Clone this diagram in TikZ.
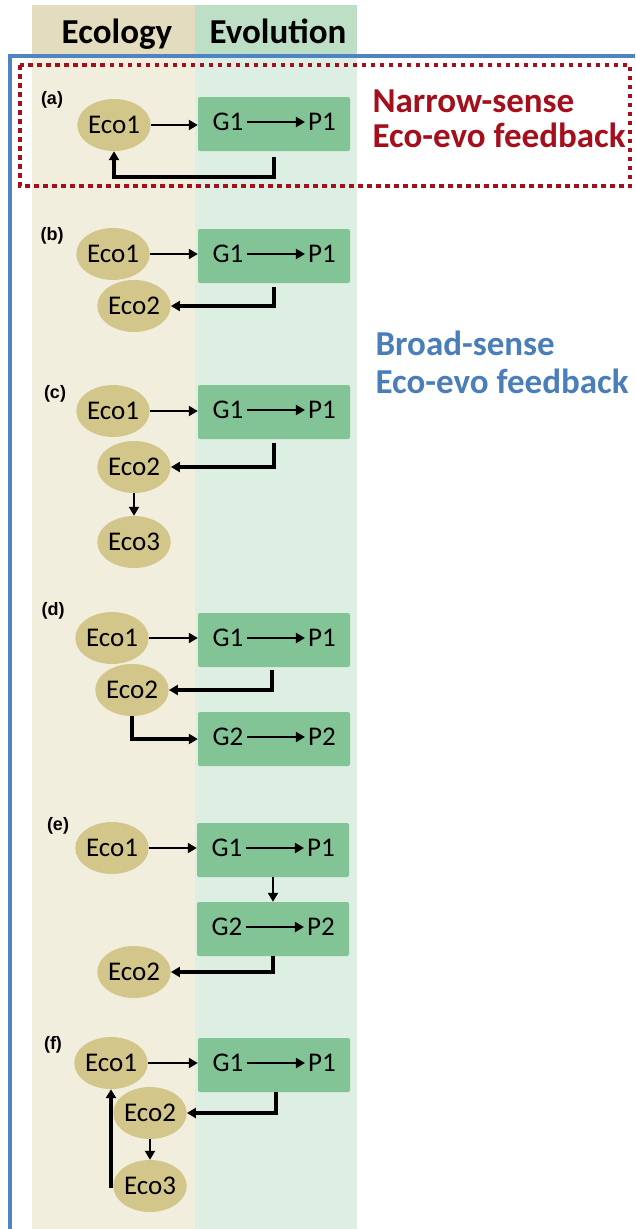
\documentclass[tikz,border=0pt]{standalone}
\usepackage{fontspec}
\setmainfont{Carlito}
\newfontfamily\lblfont{Liberation Sans}
\usetikzlibrary{arrows.meta,shapes.geometric}
\definecolor{ecohead}{HTML}{E3DCBE}
\definecolor{evohead}{HTML}{BDDFC6}
\definecolor{ecobg}{HTML}{F2EEDE}
\definecolor{evobg}{HTML}{DDEEE2}
\definecolor{ecofill}{HTML}{D3C68B}
\definecolor{evofill}{HTML}{83C497}
\definecolor{narrowred}{HTML}{A50F1B}
\definecolor{broadblue}{HTML}{4A7EBB}
\definecolor{frameblue}{HTML}{4F84C2}

\begin{document}
\begin{tikzpicture}[x=1pt, y=-1pt, >={Triangle[length=9pt,width=10pt]},
	eco/.style={ellipse, fill=ecofill, minimum width=72pt, minimum height=52pt, inner sep=0pt, font=\fontsize{27}{30}\selectfont},
	gbox/.style={rectangle, rounded corners=2pt, fill=evofill, minimum width=152pt, minimum height=54pt},
	gp/.style={inner sep=3pt, font=\fontsize{27}{30}\selectfont},
	lbl/.style={font=\lblfont\bfseries\fontsize{18}{20}\selectfont},
	head/.style={anchor=base, font=\bfseries\fontsize{35}{40}\selectfont},
	note/.style={anchor=base west, font=\bfseries\fontsize{35}{40}\selectfont},
	flow/.style={->, line width=2pt},
	fback/.style={->, line width=3.5pt}]
		\useasboundingbox (0,0) rectangle (635,1229);
		% columns
		\fill[ecohead] (32,5) rectangle (195,58);
		\fill[evohead] (195,5) rectangle (357,58);
		\fill[ecobg] (32,58) rectangle (195,1229);
		\fill[evobg] (195,58) rectangle (357,1229);
		\node[head] (ecol) at (117,43) {Ecology};
		\node[head] (evol) at (278,43) {Evolution};
		\draw[frameblue, line width=4pt] (10,1229) -- (10,56) -- (635,56);
		\draw[narrowred, line width=3.5pt, dash pattern=on 4.5pt off 4.5pt] (20,65) rectangle (630,186);
		\node[note, narrowred] (narrow1) at (369,112) {Narrow-sense};
		\node[note, narrowred] (narrow2) at (369,147) {Eco-evo feedback};
		\node[note, broadblue] (broad1) at (372,355) {Broad-sense};
		\node[note, broadblue] (broad2) at (372,393) {Eco-evo feedback};
		% (a)
		\node[lbl] (la) at (52,100) {(a)};
		\node[eco] (ecoa1) at (114,125) {Eco1};
		\node[gbox] (boxa) at (274,124) {};
		\node[gp] (ga1) at (228,122) {G1};
		\node[gp] (pa1) at (322,122) {P1};
		\draw[flow] (ecoa1.east) -- (ecoa1.east -| boxa.west);
		\draw[flow] (ga1) -- (pa1);
		\draw[fback] ([yshift=-6pt]boxa.south) -- ++(0,20) -| (ecoa1.south);
		% (b)
		\node[lbl] (lb) at (52,236) {(b)};
		\node[eco] (ecob1) at (113,254) {Eco1};
		\node[gbox] (boxb) at (274,256) {};
		\node[gp] (gb1) at (228,254) {G1};
		\node[gp] (pb1) at (322,254) {P1};
		\node[eco] (ecob2) at (134,306) {Eco2};
		\draw[flow] (ecob1.east) -- (ecob1.east -| boxb.west);
		\draw[flow] (gb1) -- (pb1);
		\draw[fback] ([yshift=-4pt]boxb.south) |- (ecob2.east);
		% (c)
		\node[lbl] (lc) at (55,394) {(c)};
		\node[eco] (ecoc1) at (113,411) {Eco1};
		\node[gbox] (boxc) at (274,412) {};
		\node[gp] (gc1) at (228,410) {G1};
		\node[gp] (pc1) at (322,410) {P1};
		\node[eco] (ecoc2) at (134,467) {Eco2};
		\node[eco] (ecoc3) at (134,542) {Eco3};
		\draw[flow] (ecoc1.east) -- (ecoc1.east -| boxc.west);
		\draw[flow] (gc1) -- (pc1);
		\draw[fback] ([yshift=-4pt]boxc.south) |- (ecoc2.east);
		\draw[flow] (ecoc2) -- (ecoc3);
		% (d)
		\node[lbl] (ld) at (53,611) {(d)};
		\node[eco] (ecod1) at (112,638) {Eco1};
		\node[gbox] (boxd1) at (274,640) {};
		\node[gp] (gd1) at (228,638) {G1};
		\node[gp] (pd1) at (322,638) {P1};
		\node[eco] (ecod2) at (132,690) {Eco2};
		\node[gbox] (boxd2) at (274,739) {};
		\node[gp] (gd2) at (228,737) {G2};
		\node[gp] (pd2) at (322,737) {P2};
		\draw[flow] (ecod1.east) -- (ecod1.east -| boxd1.west);
		\draw[flow] (gd1) -- (pd1);
		\draw[fback] ([xshift=-2pt,yshift=-3pt]boxd1.south) |- (ecod2.east);
		\draw[fback] (ecod2.south) |- (boxd2.west);
		\draw[flow] (gd2) -- (pd2);
		% (e)
		\node[lbl] (le) at (58,826) {(e)};
		\node[eco] (ecoe1) at (112,848) {Eco1};
		\node[gbox] (boxe1) at (273,850) {};
		\node[gp] (ge1) at (227,848) {G1};
		\node[gp] (pe1) at (321,848) {P1};
		\node[gbox] (boxe2) at (273,929) {};
		\node[gp] (ge2) at (227,927) {G2};
		\node[gp] (pe2) at (321,927) {P2};
		\node[eco] (ecoe2) at (134,972) {Eco2};
		\draw[flow] (ecoe1.east) -- (ecoe1.east -| boxe1.west);
		\draw[flow] (ge1) -- (pe1);
		\draw[flow] (boxe1) -- (boxe2);
		\draw[flow] (ge2) -- (pe2);
		\draw[fback] (boxe2.south) |- (ecoe2.east);
		% (f)
		\node[lbl] (lf) at (53,1045) {(f)};
		\node[eco] (ecof1) at (111,1063) {Eco1};
		\node[gbox] (boxf) at (274,1065) {};
		\node[gp] (gf1) at (228,1063) {G1};
		\node[gp] (pf1) at (322,1063) {P1};
		\node[eco] (ecof2) at (150,1113) {Eco2};
		\node[eco] (ecof3) at (150,1186) {Eco3};
		\draw[flow] (ecof1.east) -- (ecof1.east -| boxf.west);
		\draw[flow] (gf1) -- (pf1);
		\draw[fback] ([xshift=2pt]boxf.south) |- (ecof2.east);
		\draw[flow] (ecof2) -- (ecof3);
		\draw[fback] (ecof3.west) -| (ecof1.south);
	\end{tikzpicture}
\end{document}
